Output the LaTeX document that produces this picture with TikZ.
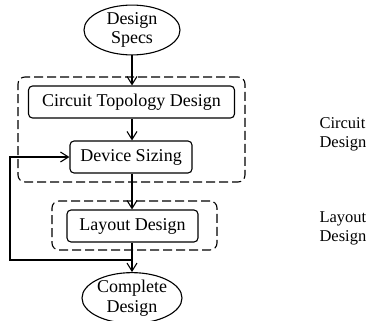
\documentclass[tikz,border=0pt]{standalone}
\usepackage{fontspec}
\setmainfont{Liberation Serif}
\usetikzlibrary{shapes.geometric,arrows.meta}
\begin{document}
\begin{tikzpicture}[x=1pt,y=-1pt,
  every node/.style={font=\fontsize{18}{19.5}\selectfont},
  oval/.style={draw,ellipse,inner sep=0pt,minimum width=96pt,minimum height=45pt,align=center,line width=1.1pt},
  blk/.style={draw,rounded corners=4pt,minimum height=32pt,inner sep=0pt,line width=1.1pt},
  grp/.style={draw,dash pattern=on 9pt off 4pt,rounded corners=7pt,line width=1.1pt,inner sep=0pt},
  arr/.style={-{Straight Barb[length=8pt,width=10pt]},line width=1.1pt},
  lab/.style={align=left,anchor=west,font=\fontsize{16.5}{19}\selectfont}]
\useasboundingbox (0,0) rectangle (372,321);
\node[grp,minimum width=227pt,minimum height=105pt] (g1) at (131.5,129.5) {};
\node[grp,minimum width=165pt,minimum height=49pt] (g2) at (134.5,225.5) {};
\node[oval] (spec) at (132,30) {Design\\Specs};
\node[blk,minimum width=206pt] (ctd) at (131.5,102) {Circuit Topology Design};
\node[blk,minimum width=122pt] (ds) at (131,157) {Device Sizing};
\node[blk,minimum width=131pt] (ld) at (132.5,226) {Layout Design};
\node[oval,minimum width=100pt,minimum height=45pt] (cd) at (132,298) {Complete\\Design};
\node[lab] (l1) at (316,134) {Circuit\\Design};
\node[lab] (l2) at (316,228) {Layout\\Design};
\draw[arr] (spec.south) -- (spec.south |- ctd.north);
\draw[arr] (spec.south |- ctd.south) -- (spec.south |- ds.north);
\draw[arr] (spec.south |- ds.south) -- (spec.south |- ld.north);
\draw[arr] (spec.south |- ld.south) -- (cd.north);
\coordinate (fb) at (132,260);
\coordinate (c1) at (10,260);
\coordinate (c2) at (10,157);
\draw[arr] (fb) -- (c1) -- (c2) -- (ds.west);
\end{tikzpicture}
\end{document}
